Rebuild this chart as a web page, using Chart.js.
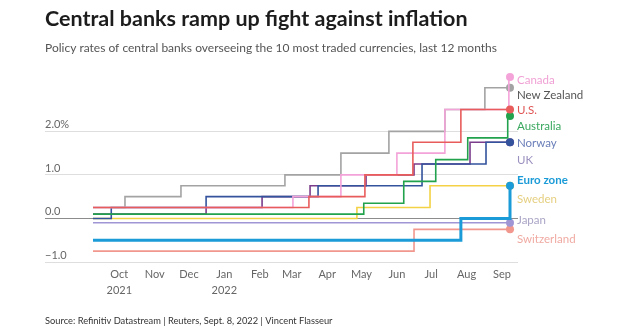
<!DOCTYPE html>
<html lang="en">
<head>
<meta charset="UTF-8">
<title>Central banks ramp up fight against inflation</title>
<script src="https://cdn.jsdelivr.net/npm/chart.js"></script>
<style>
  html, body { margin: 0; padding: 0; background: #fff; }
  #rates { display: block; }
</style>
</head>
<body>
<canvas id="rates" width="630" height="327"></canvas>
<script>
// x = days since Sept 8, 2021; y = policy rate in %
const euroDays = [0, 322, 365];
const euroRates = [-0.5, 0, 0.75];
const canadaDays = [0, 175, 217, 266, 308, 364, 365];
const canadaRates = [0.25, 0.5, 1.0, 1.5, 2.5, 3.25, 3.25];
const nzDays = [0, 28, 77, 168, 217, 259, 308, 343, 365];
const nzRates = [0.25, 0.5, 0.75, 1.0, 1.5, 2.0, 2.5, 3.0, 3.0];
const usDays = [0, 189, 238, 280, 322, 365];
const usRates = [0.25, 0.5, 1.0, 1.75, 2.5, 2.5];
const ausDays = [0, 237, 272, 300, 328, 363, 365];
const ausRates = [0.1, 0.35, 0.85, 1.35, 1.85, 2.35, 2.35];
const norwayDays = [0, 16, 99, 197, 288, 344, 365];
const norwayRates = [0, 0.25, 0.5, 0.75, 1.25, 1.75, 1.75];
const ukDays = [0, 99, 148, 190, 239, 281, 330, 365];
const ukRates = [0.1, 0.25, 0.5, 0.75, 1.0, 1.25, 1.75, 1.75];
const swedenDays = [0, 231, 295, 365];
const swedenRates = [0, 0.25, 0.75, 0.75];
const japanDays = [0, 365];
const japanRates = [-0.1, -0.1];
const swissDays = [0, 281, 365];
const swissRates = [-0.75, -0.25, -0.25];

const monthDays = [23, 54, 84, 115, 146, 174, 205, 235, 266, 296, 327, 358];
const monthLabels = ['Oct', 'Nov', 'Dec', 'Jan', 'Feb', 'Mar', 'Apr', 'May', 'Jun', 'Jul', 'Aug', 'Sep'];
const yearLabels = ['2021', '', '', '2022', '', '', '', '', '', '', '', ''];
const yTicks = [-1, 0, 1, 2];
const yTickLabels = ['\u22121.0', '0.0', '1.0', '2.0%'];

function pts(days, rates) {
    return days.map((d, i) => ({ x: d, y: rates[i] }));
}

// name, points, line colour, label colour, label position (rate units), width
// first entry is drawn on top
const series = [
    ['Euro zone', pts(euroDays, euroRates), '#1b9bd7', '#1b9bd7', 0.87, 3],
    ['U.S.', pts(usDays, usRates), '#e85d5c', '#e05555', 2.48, 1.6],
    ['Canada', pts(canadaDays, canadaRates), '#f4a3d9', '#f0a0d4', 3.17, 1.6],
    ['New Zealand', pts(nzDays, nzRates), '#a3a3a3', '#555555', 2.83, 1.6],
    ['Australia', pts(ausDays, ausRates), '#22a24c', '#3aa85e', 2.11, 1.6],
    ['Norway', pts(norwayDays, norwayRates), '#33539d', '#6a7eb8', 1.72, 1.6],
    ['UK', pts(ukDays, ukRates), '#7b3d8c', '#9c90bf', 1.33, 1.6],
    ['Sweden', pts(swedenDays, swedenRates), '#f3d245', '#e5cf80', 0.44, 1.6],
    ['Japan', pts(japanDays, japanRates), '#a096d6', '#aaa4c6', -0.05, 1.6],
    ['Switzerland', pts(swissDays, swissRates), '#f1978d', '#f0aaa2', -0.48, 1.6]
];

const datasets = series.map(s => ({
    label: s[0],
    data: s[1],
    borderColor: s[2],
    backgroundColor: s[2],
    borderWidth: s[5],
    stepped: true,
    fill: false,
    clip: false,
    pointRadius: ctx => ctx.dataIndex === s[1].length - 1 ? 4 : 0,
    pointBorderWidth: 0
}));

const texts = {
    id: 'texts',
    afterDraw(chart) {
        const { ctx, scales: { x, y } } = chart;
        ctx.save();
        ctx.textBaseline = 'alphabetic';
        ctx.textAlign = 'left';

        ctx.fillStyle = '#1c1c1c';
        ctx.font = 'bold 21.5px Lato';
        ctx.fillText('Central banks ramp up fight against inflation', 45, 26);

        ctx.fillStyle = '#555';
        ctx.font = '12px Lato';
        ctx.fillText('Policy rates of central banks overseeing the 10 most traded currencies, last 12 months', 45, 52);

        ctx.fillStyle = '#333';
        ctx.font = '9.3px Lato';
        ctx.fillText('Source: Refinitiv Datastream | Reuters, Sept. 8, 2022 | Vincent Flasseur', 45, 324);

        // y tick labels sit above their gridlines
        ctx.fillStyle = '#666';
        ctx.font = '11px Lato';
        yTicks.forEach((v, i) => ctx.fillText(yTickLabels[i], 45, y.getPixelForValue(v) - 3));

        // month labels
        ctx.textAlign = 'center';
        monthDays.forEach((d, i) => {
            const px = x.getPixelForValue(d);
            ctx.fillText(monthLabels[i], px, 278);
            if (yearLabels[i]) ctx.fillText(yearLabels[i], px, 294);
        });

        // series labels at right
        ctx.textAlign = 'left';
        ctx.textBaseline = 'middle';
        series.forEach(s => {
            ctx.fillStyle = s[3];
            ctx.font = (s[0] === 'Euro zone' ? 'bold ' : '') + '11.5px Lato';
            ctx.fillText(s[0], 517, y.getPixelForValue(s[4]));
        });
        ctx.restore();
    }
};

new Chart(document.getElementById('rates'), {
    type: 'line',
    data: { datasets },
    options: {
        responsive: false,
        animation: false,
        layout: { padding: { left: 45, right: 112, top: 66, bottom: 65 } },
        plugins: { legend: { display: false }, tooltip: { enabled: false } },
        scales: {
            x: { type: 'linear', min: -42, max: 372, display: false },
            y: {
                min: -1,
                max: 3.5,
                afterBuildTicks: scale => { scale.ticks = yTicks.map(v => ({ value: v })); },
                ticks: { display: false },
                border: { display: false },
                grid: {
                    drawTicks: false,
                    color: c => c.tick && c.tick.value === 0 ? '#8c8c8c' : '#dedede',
                    lineWidth: 1
                }
            }
        }
    },
    plugins: [texts]
});
</script>
</body>
</html>
